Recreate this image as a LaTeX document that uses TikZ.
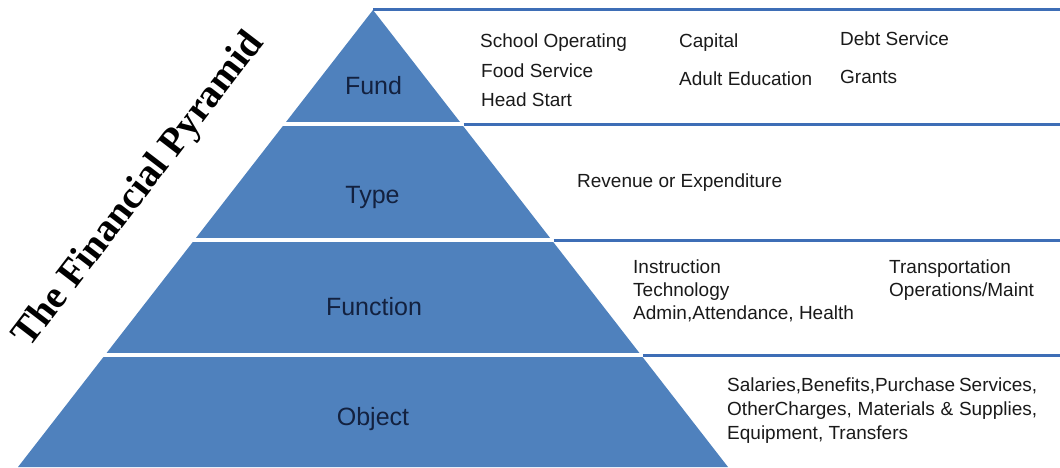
\documentclass[tikz,border=0pt]{standalone}
\usepackage{fontspec}
\setmainfont{Liberation Sans}
\newfontfamily\titlefont{Liberation Serif}
\definecolor{pyrblue}{HTML}{4F81BD}
\definecolor{lineblue}{RGB}{62,110,182}
\definecolor{labelink}{HTML}{13213F}
\definecolor{bodyink}{HTML}{1A1A1A}
\tikzset{
  level label/.style={font=\fontsize{25}{29}\selectfont, text=labelink, inner sep=0pt, anchor=center},
  item/.style={font=\fontsize{19}{24}\selectfont, text=bodyink, inner sep=0pt, anchor=base west},
  sep line/.style={draw=lineblue, line width=3pt},
  gap line/.style={draw=white, line width=4pt},
}
\begin{document}
\begin{tikzpicture}[x=1pt,y=-1pt]
\useasboundingbox (0,0) rectangle (1060,467);
% pyramid
\coordinate (apex) at (373,10);
\coordinate (bl) at (18,467);
\coordinate (br) at (728,467);
\fill[pyrblue] (apex) -- (bl) -- (br) -- cycle;
% level boundaries
\coordinate (l1) at (284.4,124);
\coordinate (r1) at (461.6,124);
\coordinate (l2) at (194.2,240);
\coordinate (r2) at (551.8,240);
\coordinate (l3) at (104.9,355);
\coordinate (r3) at (641.1,355);
\coordinate (t0) at (373,9);
\coordinate (e0) at (1060,9);
\coordinate (e1) at (1060,124);
\coordinate (e2) at (1060,240);
\coordinate (e3) at (1060,355);
\draw[gap line] ([xshift=-4pt]l1) -- ([xshift=2pt]r1);
\draw[gap line] ([xshift=-4pt]l2) -- ([xshift=2pt]r2);
\draw[gap line] ([xshift=-4pt]l3) -- ([xshift=2pt]r3);
\draw[sep line] (t0) -- (e0);
\draw[sep line] ([xshift=2pt]r1) -- (e1);
\draw[sep line] ([xshift=2pt]r2) -- (e2);
\draw[sep line] ([xshift=2pt]r3) -- (e3);
% level labels
\node[level label] (fund) at (373.5,86) {Fund};
\node[level label] (type) at (372.5,197) {Type};
\node[level label] (function) at (374,306.5) {Function};
\node[level label] (object) at (373,419) {Object};
% title
\node[font=\titlefont\bfseries\fontsize{39}{41}\selectfont, text=black, inner sep=0pt,
      anchor=base, rotate=52.5] (title) at (147,196) {The Financial Pyramid};
% fund items
\node[item] (schoolop) at (480,47) {School Operating};
\node[item] (food) at (481,77) {Food Service};
\node[item] (head) at (481,106) {Head Start};
\node[item] (capital) at (679,47) {Capital};
\node[item] (adult) at (679,85) {Adult Education};
\node[item] (debt) at (840,45) {Debt Service};
\node[item] (grants) at (840,83) {Grants};
% type items
\node[item] (revexp) at (577,187) {Revenue or Expenditure};
% function items
\node[item] (instr) at (633,273) {Instruction};
\node[item] (tech) at (633,296) {Technology};
\node[item] (admin) at (633,319) {Admin,Attendance, Health};
\node[item] (transp) at (889,273) {Transportation};
\node[item] (opmaint) at (889,296) {Operations/Maint};
% object items
\node[item] (obj1) at (727,391) {\makebox[310pt][s]{Salaries,Benefits,Purchase Services,}};
\node[item] (obj2) at (727,415) {\makebox[310pt][s]{OtherCharges, Materials \& Supplies,}};
\node[item] (obj3) at (727,439) {Equipment, Transfers};
\end{tikzpicture}
\end{document}
